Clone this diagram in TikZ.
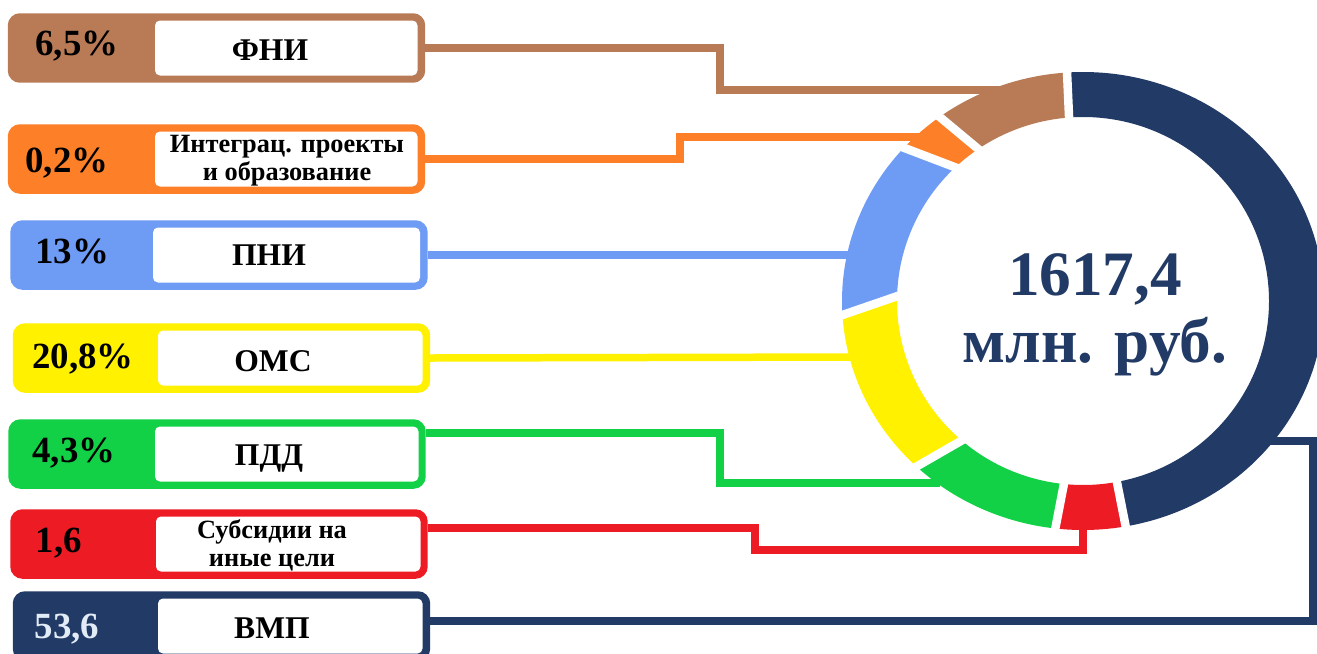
\documentclass[tikz,border=0pt]{standalone}
\usepackage{fontspec}
\setmainfont{Liberation Serif}
\usetikzlibrary{calc}
\definecolor{cbrown}{HTML}{B97B56}
\definecolor{corange}{HTML}{FD7F27}
\definecolor{cblue}{HTML}{6E9BF4}
\definecolor{cyellow}{HTML}{FFF100}
\definecolor{cgreen}{HTML}{12D147}
\definecolor{cred}{HTML}{ED1C24}
\definecolor{cnavy}{HTML}{223A66}
\definecolor{clight}{HTML}{E2ECF7}
\newcommand\ringseg[5]{\fill[#1] (#2:241 and 229) arc[start angle=#2, end angle=#3, x radius=241, y radius=229] -- (#5:186 and 184) arc[start angle=#5, end angle=#4, x radius=186, y radius=184] -- cycle;}
\newcommand\ringgap[2]{\draw[gapline] (#2:186 and 184) -- (#1:241 and 229);}
\begin{document}
\begin{tikzpicture}[x=0.02cm,y=-0.02cm,
 panel/.style={draw=#1, fill=#1, line width=0.15cm, rounded corners=0.17cm, inner sep=0pt, minimum width=8.2cm, minimum height=1.24cm},
 window/.style={fill=white, rounded corners=0.1cm},
 val/.style={anchor=base, font=\bfseries\fontsize{21}{23}\selectfont},
 lab/.style={anchor=base, font=\bfseries\fontsize{18}{20}\selectfont},
 labs/.style={anchor=base, font=\bfseries\fontsize{15}{17}\selectfont},
 ctext/.style={anchor=base, text=cnavy, font=\bfseries\fontsize{36}{38}\selectfont},
 wire/.style={draw=#1, line width=0.15cm},
 gapline/.style={draw=white, line width=0.17cm, shorten <=-0.1cm, shorten >=-0.15cm},
]
\clip (0,0) rectangle (1317,653);
\fill[white] (0,0) rectangle (1317,653);

% ---------- boxes ----------
\node[panel=cbrown]  (b1) at (216.5,48)  {};
\fill[window] (155,20.5) rectangle (417.5,75.5);
\node[val] (v1) at (77,55) {6,5\%};
\node[lab] (l1) at (270,60) {ФНИ};

\node[panel=corange] (b2) at (216.5,159) {};
\fill[window] (155,131.5) rectangle (417.5,186.5);
\node[val] (v2) at (67,172) {0,2\%};
\node[labs] (l2a) at (287,152) {Интеграц. проекты};
\node[labs] (l2b) at (287,180) {и образование};

\node[panel=cblue]   (b3) at (219,255)   {};
\fill[window] (153,227.5) rectangle (420,282.5);
\node[val] (v3) at (72,263) {13\%};
\node[lab] (l3) at (269,265) {ПНИ};

\node[panel=cyellow] (b4) at (221.5,358) {};
\fill[window] (158,330.5) rectangle (422.5,385.5);
\node[val] (v4) at (83,368) {20,8\%};
\node[lab] (l4) at (273,371) {ОМС};

\node[panel=cgreen]  (b5) at (217,454)   {};
\fill[window] (155,426.5) rectangle (418.5,481.5);
\node[val] (v5) at (74,462) {4,3\%};
\node[lab] (l5) at (269,465) {ПДД};

\node[panel=cred]    (b6) at (219,544)   {};
\fill[window] (156,516.5) rectangle (420.5,571.5);
\node[val] (v6) at (59,552) {1,6};
\node[labs] (l6a) at (272,538) {Субсидии на};
\node[labs] (l6b) at (272,566) {иные цели};

\node[panel=cnavy]   (b7) at (221.5,626) {};
\fill[window] (158,598.5) rectangle (422.5,653.5);
\node[val, text=clight] (v7) at (67,638) {53,6};
\node[lab] (l7) at (272,638) {ВМП};

% ---------- connector ends on the ring ----------
\coordinate (r1) at (1000,90);
\coordinate (r2) at (925,137);
\coordinate (r3) at (852,255);
\coordinate (r4) at (856,357);
\coordinate (r5) at (940,483);
\coordinate (r6) at (1083,525);
\coordinate (r7) at (1262,441);

\draw[wire=cbrown]  (b1.east) -| (720,90) -- (r1);
\draw[wire=corange] (b2.east) -| (680,137) -- (r2);
\draw[wire=cblue]   (b3.east) -- (r3);
\draw[wire=cyellow] (b4.east) -- (r4);
\draw[wire=cgreen]  ([yshift=0.42cm]b5.east) -| (720,483) -- (r5);
\draw[wire=cred]    ([yshift=0.32cm]b6.east) -| (755,550) -| (r6);
\draw[wire=cnavy]   ([yshift=0.1cm]b7.east) -| (1313,441) -- (r7);

% ---------- ring ----------
\begin{scope}[shift={(1083,301)}, yscale=-1]
 \ringseg{cnavy}{280.2}{453.8}{280.5}{454.3}
 \ringseg{cbrown}{93.8}{126.5}{94.3}{124.3}
 \ringseg{corange}{126.5}{138}{124.3}{133.4}
 \ringseg{cblue}{138}{183.5}{133.4}{178.5}
 \ringseg{cyellow}{183.5}{226.3}{178.5}{229.3}
 \ringseg{cgreen}{226.3}{263.4}{229.3}{264.1}
 \ringseg{cred}{263.4}{280.2}{264.1}{280.5}
 \ringgap{93.8}{94.3}
 \ringgap{126.5}{124.3}
 \ringgap{138}{133.4}
 \ringgap{183.5}{178.5}
 \ringgap{226.3}{229.3}
 \ringgap{263.4}{264.1}
 \ringgap{280.2}{280.5}
\end{scope}

\node[ctext] (tot) at (1095,295) {1617,4};
\node[ctext] (unit) at (1095,362) {млн. руб.};
\end{tikzpicture}
\end{document}
